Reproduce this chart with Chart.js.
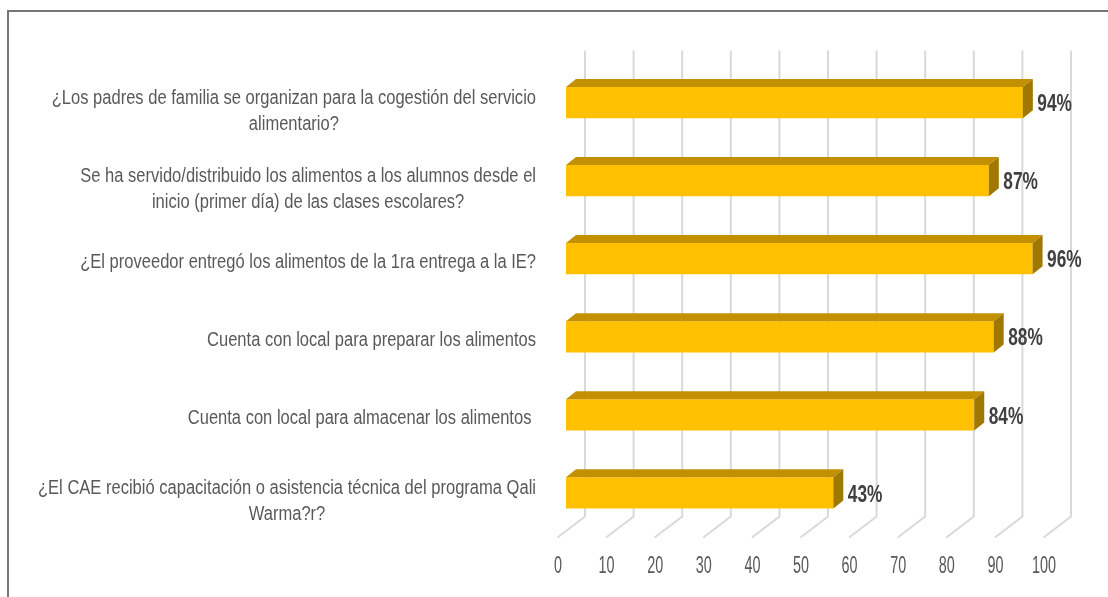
<!DOCTYPE html>
<html lang="es">
<head>
<meta charset="UTF-8">
<title>Gestión del servicio alimentario</title>
<script src="https://cdn.jsdelivr.net/npm/chart.js"></script>
<style>
  html, body { margin: 0; padding: 0; background: #fff; }
  .wrap { position: relative; width: 1108px; height: 597px; overflow: hidden; }
  .wrap canvas { position: absolute; left: 0; top: 0; }
  .frame {
    position: absolute; left: 7px; top: 10px; right: -5px; bottom: -5px;
    border-top: 2px solid #767676; border-left: 2px solid #767676;
    pointer-events: none;
  }
</style>
</head>
<body>
<div class="wrap">
  <canvas id="chart" width="1108" height="597"></canvas>
  <div class="frame"></div>
</div>
<script>
// preguntas (una entrada por barra, cada línea del rótulo aparte)
const categories = [
  ['¿Los padres de familia se organizan para la cogestión del servicio', 'alimentario?'],
  ['Se ha servido/distribuido los alimentos a los alumnos desde el', 'inicio (primer día) de las clases escolares?'],
  ['¿El proveedor entregó los alimentos de la 1ra entrega a la IE?'],
  ['Cuenta con local para preparar los alimentos'],
  ['Cuenta con local para almacenar los alimentos '],
  ['¿El CAE recibió capacitación o asistencia técnica del programa Qali', 'Warma?r?']
];
// largo de cada barra
const values = [94, 87, 96, 88, 84, 55];
// rótulo de dato tal como aparece junto a cada barra
const valueLabels = ['94%', '87%', '96%', '88%', '84%', '43%'];
const xTicks = [0, 10, 20, 30, 40, 50, 60, 70, 80, 90, 100];

const FONT = "'Liberation Sans', Arial, sans-serif";

// la fuente original es muy angosta: se comprime el texto en horizontal
function narrowText(ctx, text, x, y, sx, align) {
  ctx.save();
  ctx.translate(x, y);
  ctx.scale(sx, 1);
  ctx.textAlign = align;
  ctx.fillText(text, 0, 0);
  ctx.restore();
}

// efecto 3D: rejilla al fondo, piso inclinado, caras superior y lateral de las barras
const bars3d = {
  id: 'bars3d',
  beforeDatasetsDraw(chart) {
    const { ctx, chartArea, scales: { x, y } } = chart;
    ctx.save();
    ctx.strokeStyle = '#d9d9d9';
    ctx.lineWidth = 2;
    x.ticks.forEach(t => {
      const px = x.getPixelForValue(t.value) + 19;
      ctx.beginPath();
      ctx.moveTo(px, chartArea.top - 13);
      ctx.lineTo(px, chartArea.bottom - 15.5);
      ctx.lineTo(px - 27.5, chartArea.bottom + 5.5);
      ctx.stroke();
    });

    // valores del eje
    ctx.fillStyle = '#595959';
    ctx.font = '24px ' + FONT;
    ctx.textBaseline = 'middle';
    x.ticks.forEach(t => {
      narrowText(ctx, String(t.value), x.getPixelForValue(t.value) - 8, chartArea.bottom + 34, 0.6, 'center');
    });

    // preguntas
    ctx.font = '20px ' + FONT;
    const widest = Math.max(...chart.data.labels.flat().map(l => ctx.measureText(l).width));
    const sx = 498 / widest;
    chart.data.labels.forEach((lines, i) => {
      const w = Math.max(...lines.map(l => ctx.measureText(l).width)) * sx;
      const cx = chartArea.left - 30 - w / 2;
      const cy = y.getPixelForValue(i) + 4 + (lines.length - 1) * 5 - (lines.length - 1) * 26 / 2;
      lines.forEach((l, k) => narrowText(ctx, l, cx, cy + k * 26, sx, 'center'));
    });
    ctx.restore();
  },
  afterDatasetsDraw(chart) {
    const { ctx } = chart;
    const meta = chart.getDatasetMeta(0);
    const dx = 10, dy = 8;
    ctx.save();
    meta.data.forEach((bar, i) => {
      const { x: end, y: cy, base, height } = bar.getProps(['x', 'y', 'base', 'height'], true);
      const top = cy - height / 2, bottom = cy + height / 2;

      ctx.fillStyle = '#c29000';
      ctx.beginPath();
      ctx.moveTo(base, top);
      ctx.lineTo(base + dx, top - dy);
      ctx.lineTo(end + dx, top - dy);
      ctx.lineTo(end, top);
      ctx.closePath();
      ctx.fill();

      ctx.fillStyle = '#a07800';
      ctx.beginPath();
      ctx.moveTo(end, top);
      ctx.lineTo(end + dx, top - dy);
      ctx.lineTo(end + dx, bottom - dy);
      ctx.lineTo(end, bottom);
      ctx.closePath();
      ctx.fill();

      ctx.fillStyle = '#404040';
      ctx.font = 'bold 24px ' + FONT;
      ctx.textBaseline = 'middle';
      narrowText(ctx, valueLabels[i], end + 14.5, cy + 2, 0.72, 'left');
    });
    ctx.restore();
  }
};

new Chart(document.getElementById('chart'), {
  type: 'bar',
  data: {
    labels: categories,
    datasets: [{
      data: values,
      backgroundColor: '#ffc000',
      borderWidth: 0,
      categoryPercentage: 1,
      barPercentage: 0.4
    }]
  },
  options: {
    indexAxis: 'y',
    responsive: false,
    animation: false,
    layout: { padding: { top: 63.5, right: 56, bottom: 0, left: 0 } },
    plugins: {
      legend: { display: false },
      tooltip: { enabled: false }
    },
    scales: {
      x: {
        min: 0,
        max: 100,
        afterBuildTicks: s => { s.ticks = xTicks.map(v => ({ value: v })); },
        afterFit: s => { s.height = 65; },
        grid: { display: false, drawTicks: false },
        border: { display: false },
        ticks: { display: false }
      },
      y: {
        afterFit: s => { s.width = 566; },
        ticks: { display: false },
        grid: { display: false },
        border: { display: false }
      }
    }
  },
  plugins: [bars3d]
});
</script>
</body>
</html>
